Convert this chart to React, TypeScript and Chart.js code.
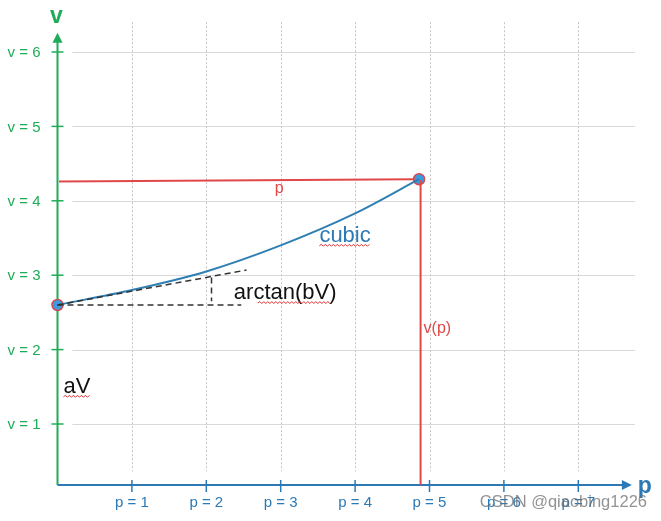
import { useEffect, useRef } from "react";
import { Chart, registerables } from "chart.js";
Chart.register(...registerables);

// ---- data ----
const pTicks = [1, 2, 3, 4, 5, 6, 7];
const pTickLabels = ["p = 1", "p = 2", "p = 3", "p = 4", "p = 5", "p = 6", "p = 7"];
const vTicks = [1, 2, 3, 4, 5, 6];
const vTickLabels = ["v = 1", "v = 2", "v = 3", "v = 4", "v = 5", "v = 6"];

const cubicP = [0, 1, 2, 3, 4, 4.86];
const cubicV = [2.6, 2.8, 3.05, 3.4, 3.83, 4.29];

const priceLineP = [0.02, 4.8];
const priceLineV = [4.26, 4.29];
const vpLineP = [4.88, 4.88];
const vpLineV = [4.28, 0.18];

const tangentP = [0, 2.54];
const tangentV = [2.6, 3.07];
const baseP = [0, 2.47];
const baseV = [2.6, 2.6];
const riseP = [2.07, 2.07];
const riseV = [2.97, 2.65];

const endPointsP = [0, 4.86];
const endPointsV = [2.6, 4.29];

const noteTexts = ["p", "v(p)", "cubic", "arctan(bV)", "aV"];
const noteP = [2.98, 4.92, 3.52, 2.37, 0.08];
const noteV = [4.17, 2.28, 3.53, 2.76, 1.5];

const FONT = "'Liberation Sans', Arial, sans-serif";
const GREEN = "#1fac58";
const BLUE = "#2b79b5";
const RED = "#e04848";

const zip = (xs: number[], ys: number[]) => xs.map((x, i) => ({ x, y: ys[i] }));

function squiggle(ctx: CanvasRenderingContext2D, x0: number, x1: number, y: number) {
  ctx.save();
  ctx.strokeStyle = "#e03030";
  ctx.lineWidth = 1;
  ctx.beginPath();
  let up = true;
  ctx.moveTo(x0, y);
  for (let x = x0 + 2; x <= x1; x += 2) {
    ctx.lineTo(x, up ? y - 1.5 : y + 0.5);
    up = !up;
  }
  ctx.stroke();
  ctx.restore();
}

const decorPlugin = {
  id: "decor",
  beforeDatasetsDraw(chart: any) {
    const ctx: CanvasRenderingContext2D = chart.ctx;
    const xs = chart.scales.x;
    const ys = chart.scales.y;
    ctx.save();
    // horizontal grid
    ctx.strokeStyle = "#d9d9d9";
    ctx.lineWidth = 1;
    vTicks.forEach((v) => {
      const y = Math.round(ys.getPixelForValue(v)) + 0.5;
      ctx.beginPath();
      ctx.moveTo(xs.getPixelForValue(0.2), y);
      ctx.lineTo(xs.getPixelForValue(7.76), y);
      ctx.stroke();
    });
    // vertical dotted grid
    ctx.strokeStyle = "#c4c4c4";
    ctx.setLineDash([2, 2]);
    pTicks.forEach((p) => {
      const x = Math.round(xs.getPixelForValue(p)) + 0.5;
      ctx.beginPath();
      ctx.moveTo(x, ys.getPixelForValue(6.4));
      ctx.lineTo(x, ys.getPixelForValue(0.36));
      ctx.stroke();
    });
    ctx.setLineDash([]);

    // axes
    const ox = xs.getPixelForValue(0);
    const oy = ys.getPixelForValue(0.18);
    const yTip = ys.getPixelForValue(6.26);
    const xTip = xs.getPixelForValue(7.72);
    ctx.lineWidth = 2;
    ctx.strokeStyle = GREEN;
    ctx.beginPath();
    ctx.moveTo(ox, oy);
    ctx.lineTo(ox, yTip + 6);
    ctx.stroke();
    ctx.fillStyle = GREEN;
    ctx.beginPath();
    ctx.moveTo(ox, yTip);
    ctx.lineTo(ox - 5, yTip + 10);
    ctx.lineTo(ox + 5, yTip + 10);
    ctx.closePath();
    ctx.fill();

    ctx.strokeStyle = BLUE;
    ctx.beginPath();
    ctx.moveTo(ox, oy);
    ctx.lineTo(xTip - 6, oy);
    ctx.stroke();
    ctx.fillStyle = BLUE;
    ctx.beginPath();
    ctx.moveTo(xTip, oy);
    ctx.lineTo(xTip - 10, oy - 5);
    ctx.lineTo(xTip - 10, oy + 5);
    ctx.closePath();
    ctx.fill();

    // ticks
    ctx.lineWidth = 1.5;
    ctx.strokeStyle = GREEN;
    vTicks.forEach((v) => {
      const y = ys.getPixelForValue(v);
      ctx.beginPath();
      ctx.moveTo(ox - 6, y);
      ctx.lineTo(ox + 6, y);
      ctx.stroke();
    });
    ctx.strokeStyle = BLUE;
    pTicks.forEach((p) => {
      const x = xs.getPixelForValue(p);
      ctx.beginPath();
      ctx.moveTo(x, oy - 5);
      ctx.lineTo(x, oy + 7);
      ctx.stroke();
    });

    // tick labels
    ctx.font = `15px ${FONT}`;
    ctx.textBaseline = "middle";
    ctx.fillStyle = GREEN;
    ctx.textAlign = "right";
    vTicks.forEach((v, i) => {
      ctx.fillText(vTickLabels[i], ox - 17, ys.getPixelForValue(v) + 1);
    });
    ctx.fillStyle = BLUE;
    ctx.textAlign = "center";
    pTicks.forEach((p, i) => {
      ctx.fillText(pTickLabels[i], xs.getPixelForValue(p), oy + 18);
    });

    // axis titles
    ctx.font = `bold 23px ${FONT}`;
    ctx.fillStyle = GREEN;
    ctx.textAlign = "center";
    ctx.fillText("v", ox - 1, yTip - 16);
    ctx.fillStyle = BLUE;
    ctx.textAlign = "left";
    ctx.fillText("p", xTip + 6, oy + 2);
    ctx.restore();
  },
  afterDatasetsDraw(chart: any) {
    const ctx: CanvasRenderingContext2D = chart.ctx;
    const xs = chart.scales.x;
    const ys = chart.scales.y;
    ctx.save();
    ctx.textBaseline = "middle";
    ctx.textAlign = "left";
    const styles = [
      { c: RED, f: 16 },
      { c: RED, f: 16 },
      { c: BLUE, f: 22 },
      { c: "#111", f: 22 },
      { c: "#111", f: 22 },
    ];
    noteTexts.forEach((t, i) => {
      const x = xs.getPixelForValue(noteP[i]);
      const y = ys.getPixelForValue(noteV[i]);
      ctx.font = `${styles[i].f}px ${FONT}`;
      ctx.fillStyle = styles[i].c;
      ctx.textAlign = i === 0 ? "center" : "left";
      ctx.fillText(t, x, y);
      if (i >= 2) {
        const w = ctx.measureText(t).width;
        const sx = i === 3 ? x + 24 : x;
        const ex = i === 3 ? x + w - 6 : x + w;
        squiggle(ctx, sx, ex, y + 10);
      }
    });
    // watermark
    ctx.font = `16.5px ${FONT}`;
    ctx.textAlign = "right";
    ctx.fillStyle = "rgba(110,110,110,0.75)";
    ctx.fillText("CSDN @qiaobing1226", 647, 502);
    ctx.restore();
  },
};

export default function App() {
  const ref = useRef<HTMLCanvasElement | null>(null);
  useEffect(() => {
    document.body.style.margin = "0";
    if (!ref.current) return;
    const dashed = {
      borderColor: "#333",
      borderWidth: 1.5,
      borderDash: [6, 4],
      pointRadius: 0,
      showLine: true,
      fill: false,
    };
    const chart = new Chart(ref.current, {
      type: "scatter",
      data: {
        datasets: [
          { ...dashed, data: zip(baseP, baseV) },
          { ...dashed, data: zip(tangentP, tangentV) },
          { ...dashed, data: zip(riseP, riseV) },
          {
            data: zip(priceLineP, priceLineV),
            showLine: true,
            borderColor: RED,
            borderWidth: 2,
            pointRadius: 0,
          },
          {
            data: zip(vpLineP, vpLineV),
            showLine: true,
            borderColor: RED,
            borderWidth: 2,
            pointRadius: 0,
          },
          {
            data: zip(cubicP, cubicV),
            showLine: true,
            borderColor: "#2f7fb3",
            borderWidth: 2,
            pointRadius: 0,
            cubicInterpolationMode: "monotone",
          },
          {
            data: zip(endPointsP, endPointsV),
            showLine: false,
            pointRadius: 5.5,
            pointBackgroundColor: "#3d9be0",
            pointBorderColor: "#d8464f",
            pointBorderWidth: 1.5,
          },
        ] as any,
      },
      options: {
        animation: false,
        responsive: false,
        devicePixelRatio: 1,
        clip: false as any,
        layout: { padding: { left: 57.5, right: 8.3, top: 14.8, bottom: 22.6 } },
        plugins: { legend: { display: false }, tooltip: { enabled: false } },
        scales: {
          x: { type: "linear", min: 0, max: 8, display: false },
          y: { type: "linear", min: 0, max: 6.5, display: false },
        },
      },
      plugins: [decorPlugin],
    });
    return () => chart.destroy();
  }, []);
  return (
    <div style={{ width: 661, height: 521, background: "#fff" }}>
      <canvas ref={ref} width={661} height={521} style={{ display: "block" }} />
    </div>
  );
}
